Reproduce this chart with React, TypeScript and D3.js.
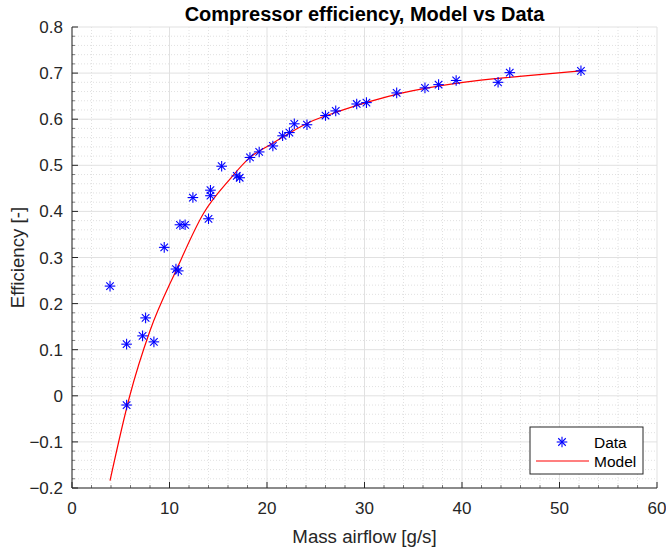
import React from "react";
import * as d3 from "d3";

const dataX = [3.9, 5.6, 5.6, 7.24, 7.55, 8.4, 9.46, 10.66, 10.9, 11.07, 11.6, 12.4, 14.0, 14.2, 14.2, 15.35, 16.9, 17.2, 18.25, 19.2, 20.6, 21.6, 22.3, 22.8, 24.1, 26.0, 27.05, 29.2, 30.2, 33.3, 36.2, 37.6, 39.4, 43.7, 44.9, 52.2];
const dataY = [0.238, 0.112, -0.02, 0.13, 0.169, 0.117, 0.322, 0.275, 0.271, 0.371, 0.371, 0.43, 0.384, 0.446, 0.434, 0.498, 0.477, 0.473, 0.517, 0.529, 0.542, 0.564, 0.571, 0.59, 0.588, 0.608, 0.618, 0.633, 0.636, 0.657, 0.668, 0.675, 0.684, 0.68, 0.701, 0.705];

const modelX = [3.9, 5.9, 8.0, 10.7, 13.5, 16.2, 18.2, 20.6, 24.4, 27.5, 30.5, 33.9, 40.1, 45.9, 52.2];
const modelY = [-0.184, -0.002, 0.141, 0.273, 0.396, 0.47, 0.516, 0.548, 0.594, 0.618, 0.638, 0.657, 0.68, 0.693, 0.705];

const xTicks = [0, 10, 20, 30, 40, 50, 60];
const yTicks = [-0.2, -0.1, 0, 0.1, 0.2, 0.3, 0.4, 0.5, 0.6, 0.7, 0.8];

const W = 666, H = 550;
const L = 72, R = 657, T = 27, B = 488;
const FONT = "'Liberation Sans', Arial, Helvetica, sans-serif";

function Star({ cx, cy, r }: { cx: number; cy: number; r: number }) {
  const d = r * 0.7071;
  return (
    <g stroke="#0000ff" strokeWidth={1.1}>
      <line x1={cx - r} y1={cy} x2={cx + r} y2={cy} />
      <line x1={cx} y1={cy - r} x2={cx} y2={cy + r} />
      <line x1={cx - d} y1={cy - d} x2={cx + d} y2={cy + d} />
      <line x1={cx - d} y1={cy + d} x2={cx + d} y2={cy - d} />
    </g>
  );
}

export default function App() {
  const x = d3.scaleLinear().domain([0, 60]).range([L, R]);
  const y = d3.scaleLinear().domain([-0.2, 0.8]).range([B, T]);
  const xMinor = d3.range(0, 60.001, 2).filter((v) => Math.abs(v % 10) > 1e-6);
  const yMinor = d3.range(-0.2, 0.8001, 0.02).filter((v) => Math.abs(Math.round(v * 100) % 10) !== 0);
  const line = d3
    .line<number>()
    .x((_, i) => x(modelX[i]))
    .y((v) => y(v))
    .curve(d3.curveMonotoneX);

  return (
    <svg width={W} height={H} style={{ position: "absolute", left: 0, top: 0 }} fontFamily={FONT}>
      <rect x={0} y={0} width={W} height={H} fill="#fff" />
      {/* minor grid */}
      <g stroke="#d4d4d4" strokeWidth={0.7} strokeDasharray="1,2">
        {xMinor.map((v) => (
          <line key={"xm" + v} x1={x(v)} x2={x(v)} y1={T} y2={B} />
        ))}
        {yMinor.map((v) => (
          <line key={"ym" + v} x1={L} x2={R} y1={y(v)} y2={y(v)} />
        ))}
      </g>
      {/* major grid */}
      <g stroke="#e1e1e1" strokeWidth={1}>
        {xTicks.map((v) => (
          <line key={"xg" + v} x1={x(v)} x2={x(v)} y1={T} y2={B} />
        ))}
        {yTicks.map((v) => (
          <line key={"yg" + v} x1={L} x2={R} y1={y(v)} y2={y(v)} />
        ))}
      </g>
      {/* axes */}
      <g stroke="#262626" strokeWidth={1}>
        <line x1={L} x2={L} y1={T} y2={B} />
        <line x1={L} x2={R} y1={B} y2={B} />
        {xTicks.map((v) => (
          <line key={"xt" + v} x1={x(v)} x2={x(v)} y1={B} y2={B - 6} />
        ))}
        {yTicks.map((v) => (
          <line key={"yt" + v} x1={L} x2={L + 6} y1={y(v)} y2={y(v)} />
        ))}
      </g>
      <g stroke="#262626" strokeWidth={0.6}>
        {xMinor.map((v) => (
          <line key={"xmt" + v} x1={x(v)} x2={x(v)} y1={B} y2={B - 3} />
        ))}
        {yMinor.map((v) => (
          <line key={"ymt" + v} x1={L} x2={L + 3} y1={y(v)} y2={y(v)} />
        ))}
      </g>
      {/* tick labels */}
      <g fontSize={17} fill="#262626">
        {xTicks.map((v) => (
          <text key={"xl" + v} x={x(v)} y={B + 26} textAnchor="middle">
            {v}
          </text>
        ))}
        {yTicks.map((v) => (
          <text key={"yl" + v} x={L - 9} y={y(v) + 6} textAnchor="end">
            {d3.format("")(Math.round(v * 10) / 10)}
          </text>
        ))}
      </g>
      {/* model */}
      <path d={line(modelY) || ""} fill="none" stroke="#ff0000" strokeWidth={1.2} />
      {/* data */}
      {dataX.map((v, i) => (
        <Star key={"p" + i} cx={x(v)} cy={y(dataY[i])} r={5.3} />
      ))}
      {/* title and labels */}
      <text x={(L + R) / 2} y={21} textAnchor="middle" fontSize={20} fontWeight="bold" fill="#000">
        Compressor efficiency, Model vs Data
      </text>
      <text x={(L + R) / 2} y={543} textAnchor="middle" fontSize={18.7} fill="#262626">
        Mass airflow [g/s]
      </text>
      <text
        transform={`translate(24, ${(T + B) / 2}) rotate(-90)`}
        textAnchor="middle"
        fontSize={18.7}
        fill="#262626"
      >
        Efficiency [-]
      </text>
      {/* legend */}
      <g>
        <rect x={530} y={427} width={113} height={47} fill="#fff" stroke="#262626" strokeWidth={1} />
        <Star cx={562} cy={442} r={5.3} />
        <line x1={536} x2={589} y1={461} y2={461} stroke="#ff0000" strokeWidth={1.2} />
        <text x={594} y={448} fontSize={15.5} fill="#000">
          Data
        </text>
        <text x={594} y={467} fontSize={15.5} fill="#000">
          Model
        </text>
      </g>
    </svg>
  );
}
